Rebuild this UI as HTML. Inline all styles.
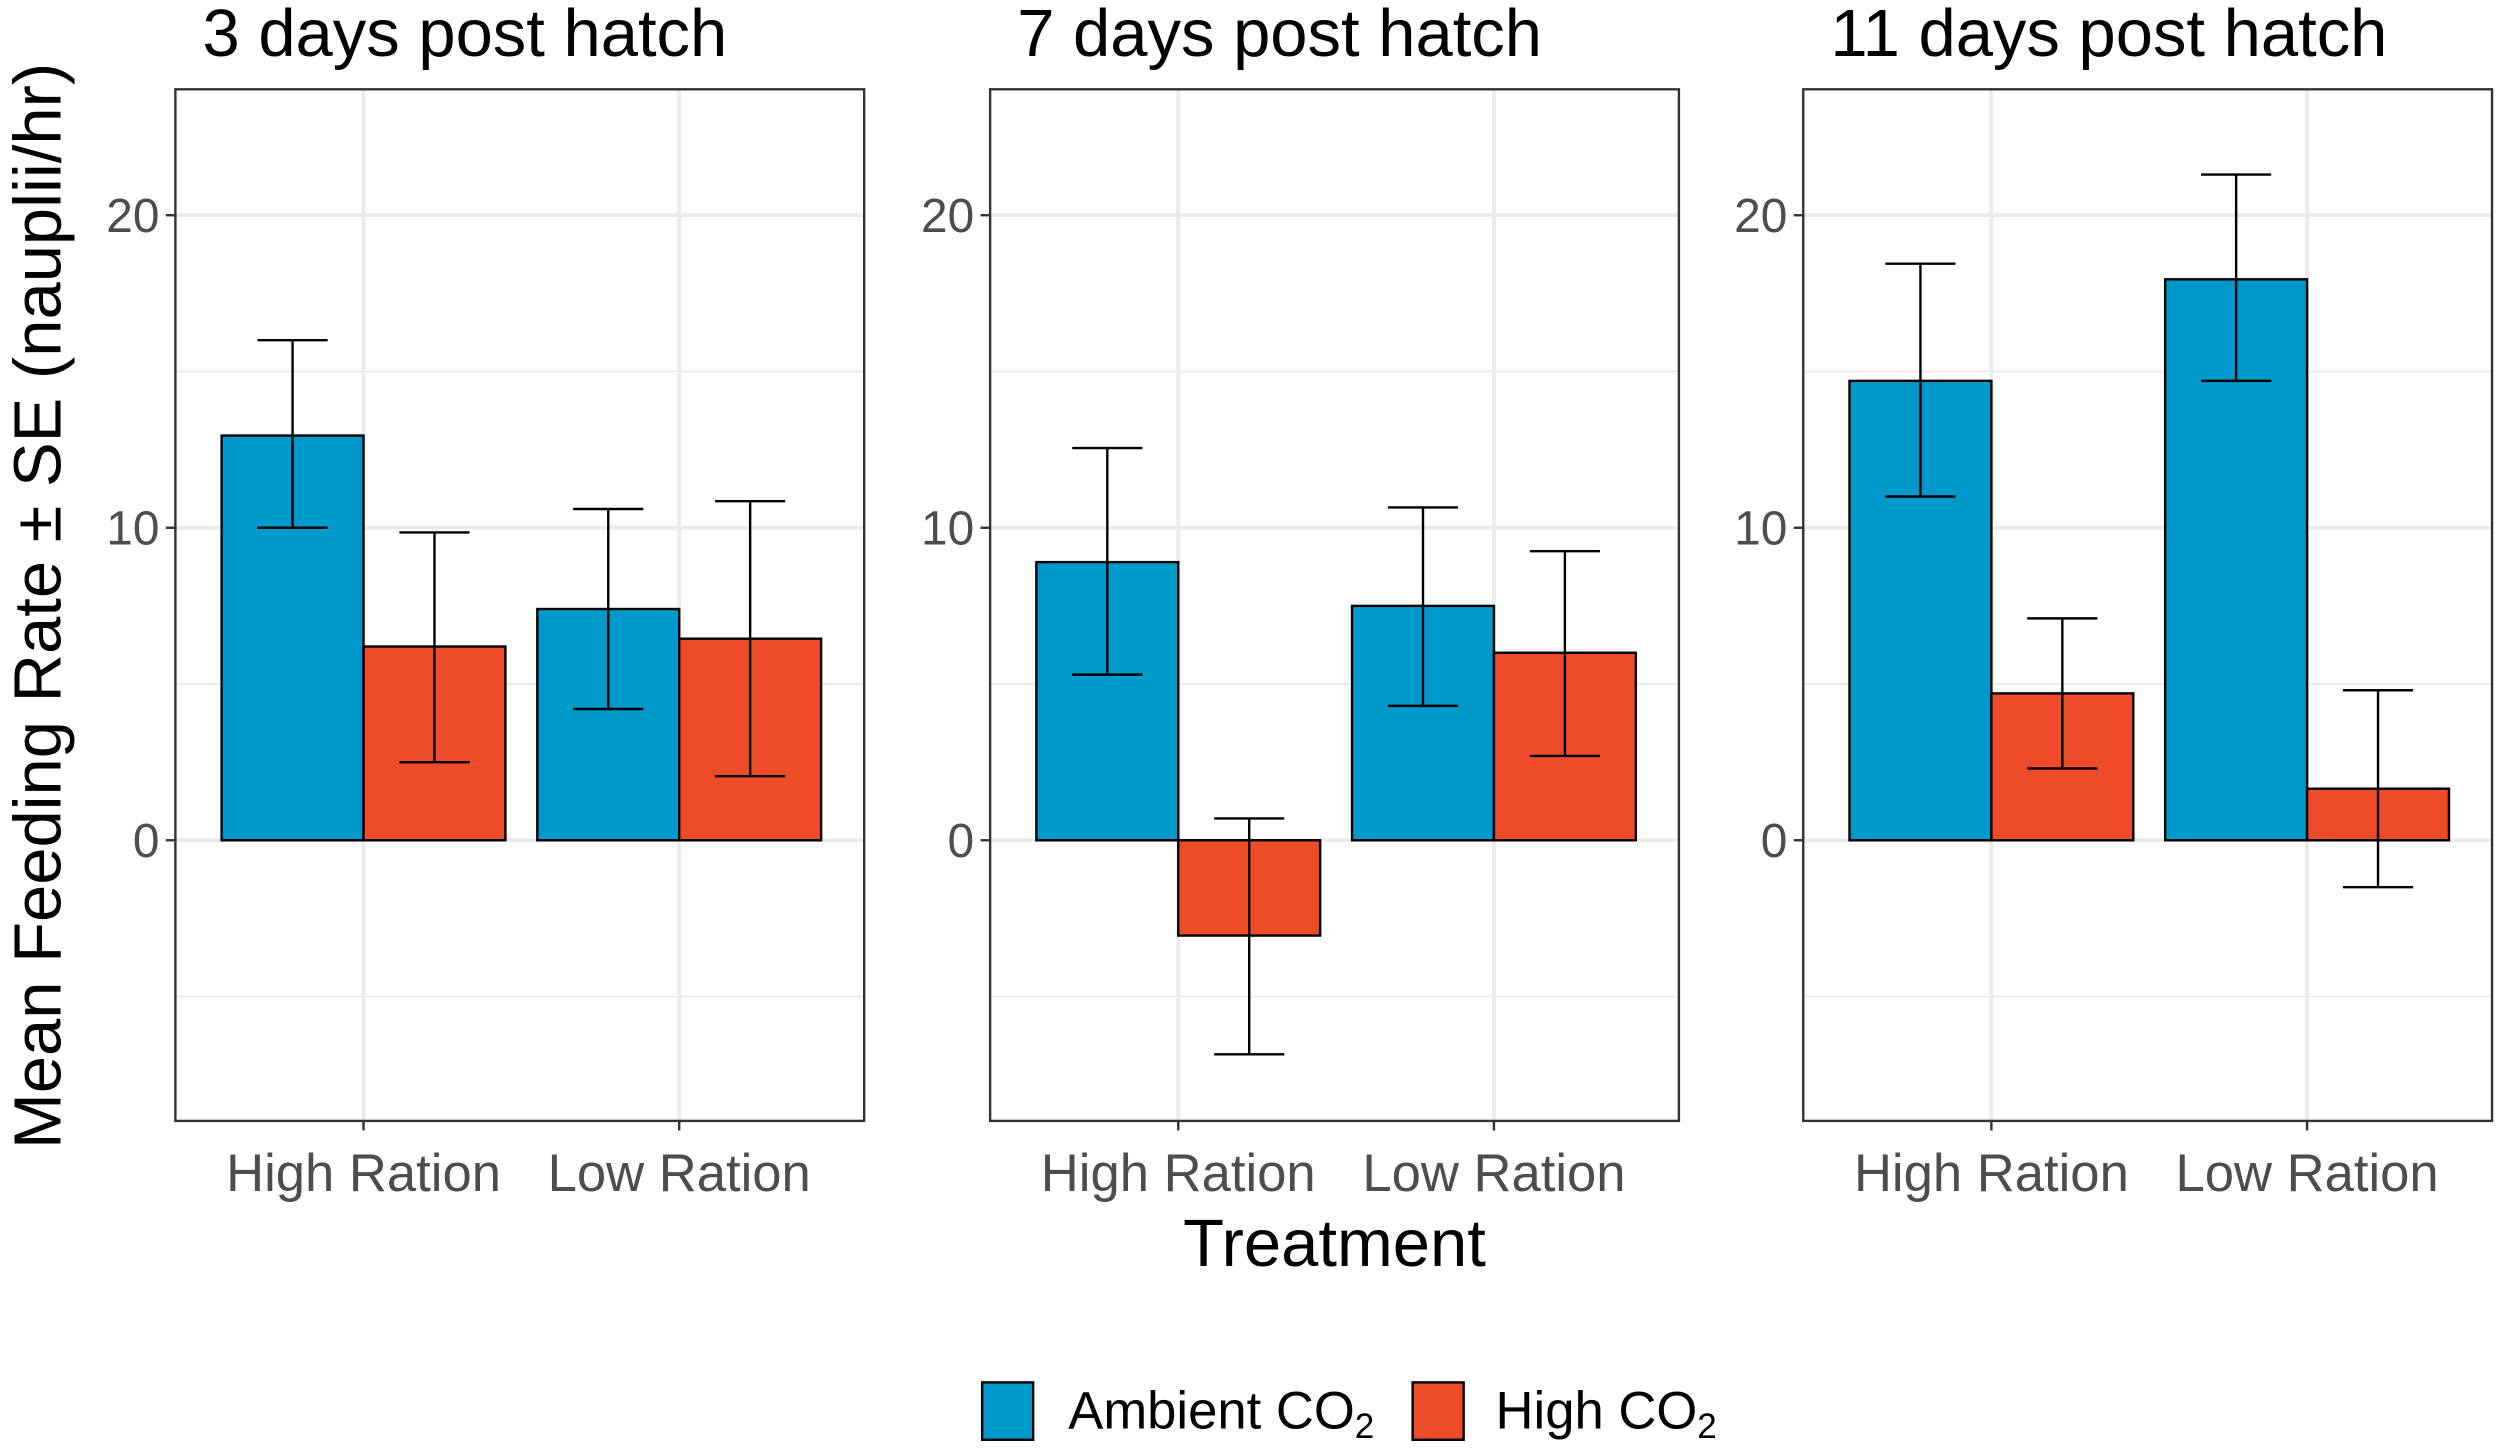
<!DOCTYPE html>
<html><head><meta charset="utf-8">
<style>html,body{margin:0;padding:0;background:#fff}svg{display:block}text{font-family:"Liberation Sans",Arial,sans-serif}</style>
</head><body>
<svg id="chart" width="2500" height="1450" viewBox="0 0 1568 909.4" preserveAspectRatio="none" xmlns="http://www.w3.org/2000/svg"></svg>
<script>
const panels = ["3 days post hatch","7 days post hatch","11 days post hatch"];
const categories = ["High Ration","Low Ration"];
const series = ["Ambient CO2","High CO2"];
const ambientMean = [[12.95,7.4],[8.9,7.5],[14.7,17.95]];
const ambientLo = [[10.0,4.2],[5.3,4.3],[11.0,14.7]];
const ambientHi = [[16.0,10.6],[12.55,10.65],[18.45,21.3]];
const highMean = [[6.2,6.45],[-3.05,6.0],[4.7,1.65]];
const highLo = [[2.5,2.05],[-6.85,2.7],[2.3,-1.5]];
const highHi = [[9.85,10.85],[0.7,9.25],[7.1,4.8]];
const yTicks = [0,10,20];
const yMinor = [-5,5,15];

const NS="http://www.w3.org/2000/svg";
const svg=document.getElementById('chart');
function el(tag,attrs,parent){const e=document.createElementNS(NS,tag);for(const k in attrs)e.setAttribute(k,attrs[k]);(parent||svg).appendChild(e);return e;}
const panelX=[110,621,1131], panelW=432, plotTop=56, plotBottom=703;
const yMin=-8.98, yMax=24.03;
function y(v){return plotBottom-(v-yMin)/(yMax-yMin)*(plotBottom-plotTop);}
function xc(p,i){return panelX[p]+118+i*198;}
const colors=["#0099CC","#EE4B2B"];

panels.forEach((title,p)=>{
  const g=el('g',{});
  
  
  const x0=panelX[p];
  yMinor.forEach(v=>{el('line',{x1:x0,x2:x0+panelW,y1:y(v),y2:y(v),stroke:'#ebebeb','stroke-width':1.2},g);});
  yTicks.forEach(v=>{el('line',{x1:x0,x2:x0+panelW,y1:y(v),y2:y(v),stroke:'#ebebeb','stroke-width':2.4},g);});
  categories.forEach((c,i)=>{el('line',{x1:xc(p,i),x2:xc(p,i),y1:plotTop,y2:plotBottom,stroke:'#ebebeb','stroke-width':2.4},g);});
  const means=[ambientMean[p],highMean[p]],los=[ambientLo[p],highLo[p]],his=[ambientHi[p],highHi[p]];
  categories.forEach((c,i)=>{
    [0,1].forEach(s=>{
      const bx=xc(p,i)-89+s*89, m=means[s][i];
      const r=el('rect',{x:bx,y:Math.min(y(m),y(0)),width:89,height:Math.abs(y(m)-y(0)),fill:colors[s],stroke:'#000','stroke-width':1.5},g);
      
      
      const cx=bx+44.5;
      const eb=el('g',{stroke:'#000','stroke-width':1.5},g);
      
      
      el('line',{x1:cx,x2:cx,y1:y(los[s][i]),y2:y(his[s][i])},eb);
      el('line',{x1:cx-22,x2:cx+22,y1:y(los[s][i]),y2:y(los[s][i])},eb);
      el('line',{x1:cx-22,x2:cx+22,y1:y(his[s][i]),y2:y(his[s][i])},eb);
    });
    el('line',{x1:xc(p,i),x2:xc(p,i),y1:plotBottom,y2:plotBottom+6,stroke:'#333','stroke-width':1.5},g);
    const t=el('text',{x:xc(p,i),y:747,'font-size':33,fill:'#4d4d4d','text-anchor':'middle'},g);
    t.textContent=c;
    
    
  });
  yTicks.forEach(v=>{
    el('line',{x1:x0-6,x2:x0,y1:y(v),y2:y(v),stroke:'#333','stroke-width':1.5},g);
    const t=el('text',{x:x0-10,y:y(v)+10.5,'font-size':30,fill:'#4d4d4d','text-anchor':'end'},g);
    t.textContent=v;
    
    
  });
  el('rect',{x:x0,y:plotTop,width:panelW,height:plotBottom-plotTop,fill:'none',stroke:'#333','stroke-width':1.5},g);
  const tt=el('text',{x:x0+17,y:35,'font-size':42,fill:'#000'},g);
  tt.textContent=title;
  
  
});
const xt=el('text',{x:837,y:794,'font-size':42,'text-anchor':'middle',fill:'#000'});
xt.textContent='Treatment';


const yt=el('text',{x:0,y:0,'font-size':42,'text-anchor':'middle',fill:'#000',transform:'translate(38,380) rotate(-90)'});
yt.textContent='Mean Feeding Rate ± SE (nauplii/hr)';


const leg=el('g',{});


[[616,670,'Ambient CO'],[886,938,'High CO']].forEach((d,s)=>{
  const r=el('rect',{x:d[0],y:867,width:32,height:36,fill:colors[s],stroke:'#000','stroke-width':1.5},leg);
  
  
  const t=el('text',{x:d[1],y:896,'font-size':33,fill:'#000'},leg);
  t.textContent=d[2];
  const sub=el('tspan',{'font-size':22,dy:6},t);
  sub.textContent='2';
  
  
});
</script>
</body></html>
